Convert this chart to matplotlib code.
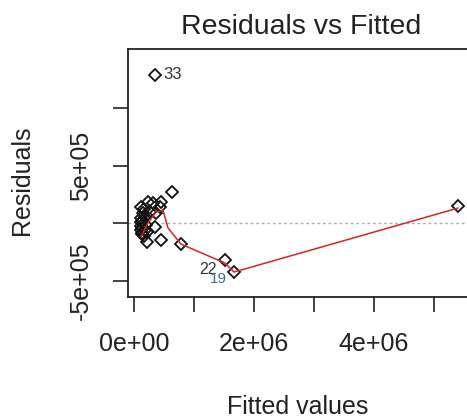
import matplotlib.pyplot as plt
import numpy as np

plt.rcParams['font.family'] = ['Liberation Sans', 'DejaVu Sans']

# fitted values and residuals of the model
fitted = np.array([0.233, 0.117, 0.317, 0.433, 0.45, 0.15, 0.267, 0.367,
                   0.12, 0.13, 0.14, 0.18, 0.2, 0.125, 0.35, 0.22, 0.16,
                   0.115, 0.12, 0.135, 0.14, 0.17, 0.19,
                   0.217, 0.45, 0.783, 0.633, 0.35, 1.517, 1.667, 5.4]) * 1e6
resid = np.array([1.83, 1.39, 1.74, 1.39, 1.83, 0.87, 0.96, 0.87,
                  0.09, -0.43, -0.87, -0.61, -0.17, 0.43, -0.35, -0.78, -1.13,
                  -0.6, -0.25, -0.95, 0.2, 1.2, 0.55,
                  -1.65, -1.48, -1.83, 2.7, 12.87, -3.22, -4.26, 1.48]) * 1e5

# lowess smooth of residuals against fitted values
smooth_x = np.array([0.117, 0.233, 0.367, 0.483, 0.567, 0.783, 1.517, 1.667, 5.4]) * 1e6
smooth_y = np.array([-1.2, 0.0, 0.96, 1.1, -0.43, -1.83, -3.48, -4.26, 1.3]) * 1e5

# observations flagged with the largest residuals
id_labels = ['33', '22', '19']
id_x = np.array([0.35, 1.517, 1.667]) * 1e6
id_y = np.array([12.87, -3.22, -4.26]) * 1e5

xticks = [0, 1e6, 2e6, 3e6, 4e6, 5e6]
xticklabels = ['0e+00', '', '2e+06', '', '4e+06', '']
yticks = [-5e5, 0, 5e5, 1e6]
yticklabels = ['-5e+05', '', '5e+05', '']

W, H = 467, 419
fig = plt.figure(figsize=(W / 100, H / 100), dpi=100)
ax = fig.add_axes([128 / W, (H - 297) / H, (471 - 128) / W, (297 - 49) / H])

ax.axhline(0, color='#b0b0b0', lw=1, linestyle=(0, (2, 2)))
ax.plot(fitted, resid, linestyle='none', marker='D', markersize=6.2,
        markerfacecolor='none', markeredgecolor='#111111', markeredgewidth=1.3)
ax.plot(smooth_x, smooth_y, color='#dd2222', lw=1.1)

offsets = {'33': (6, 0, 'left'), '22': (-6, -7, 'right'), '19': (-5, -5, 'right')}
colors = {'33': '#333333', '22': '#333333', '19': '#40709a'}
sizes = {'33': 12, '22': 11.5, '19': 11}
for lab, x, y in zip(id_labels, id_x, id_y):
    dx, dy, ha = offsets[lab]
    ax.annotate(lab, (x, y), xytext=(dx, dy), textcoords='offset points',
                ha=ha, va='center', fontsize=sizes[lab], color=colors[lab])

ax.set_xlim(-0.1e6, 5.617e6)
ax.set_ylim(-6.43e5, 15.13e5)
ax.set_xticks(xticks)
ax.set_xticklabels(xticklabels)
ax.set_yticks(yticks)
ax.set_yticklabels(yticklabels, rotation=90, va='center')
ax.tick_params(length=11, width=1.2, color='#222222', labelsize=18,
               labelcolor='#222222', pad=14)
for s in ax.spines.values():
    s.set_color('#222222')
    s.set_linewidth(1.3)

fig.text(301 / W, 1 - 27 / H, 'Residuals vs Fitted', ha='center', va='center',
         fontsize=20.5, color='#222222')
fig.text(298 / W, 1 - 407 / H, 'Fitted values', ha='center', va='center',
         fontsize=18, color='#222222')
fig.text(22 / W, 1 - 180 / H, 'Residuals', ha='center', va='center',
         rotation=90, fontsize=18, color='#222222')

fig.savefig('out.png', dpi=100)
